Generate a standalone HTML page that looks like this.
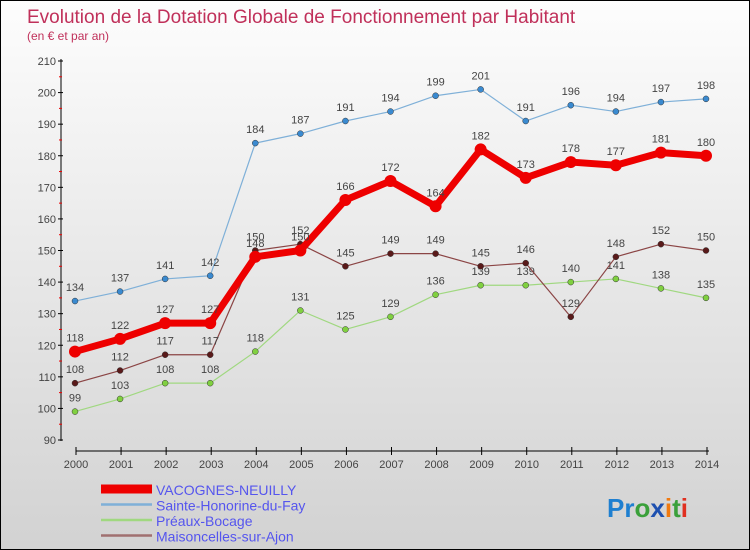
<!DOCTYPE html>
<html><head><meta charset="utf-8"><style>
body{margin:0;}
#c{width:748px;height:548px;border:1px solid #000;background:linear-gradient(#fdfdfd,#d2d2d2);position:relative;font-family:"Liberation Sans",sans-serif;overflow:hidden}
</style></head><body>
<div id="c">
<svg id="s" width="748" height="548" style="position:absolute;left:0;top:0">
<text x="26" y="22" font-size="19" fill="#c0305a">Evolution de la Dotation Globale de Fonctionnement par Habitant</text>
<text x="26" y="39" font-size="12" fill="#c0305a">(en € et par an)</text>
<g id="g"></g>
<text x="606" y="516" font-size="26" font-weight="bold"><tspan fill="#1e7fd0">Pr</tspan><tspan fill="#3aa03a">o</tspan><tspan fill="#1e50b0">x</tspan><tspan fill="#f07a10">i</tspan><tspan fill="#3aa03a">t</tspan><tspan fill="#e03020">i</tspan></text>
</svg>
</div>
<script>
const years=[2000,2001,2002,2003,2004,2005,2006,2007,2008,2009,2010,2011,2012,2013,2014];
const yTicks=[90,100,110,120,130,140,150,160,170,180,190,200,210];
const vacognes=[118,122,127,127,148,150,166,172,164,182,173,178,177,181,180];
const sainte=[134,137,141,142,184,187,191,194,199,201,191,196,194,197,198];
const preaux=[99,103,108,108,118,131,125,129,136,139,139,140,141,138,135];
const maison=[108,112,117,117,150,152,145,149,149,145,146,129,148,152,150];
const NS="http://www.w3.org/2000/svg";
const g=document.getElementById('g');
const X=i=>74+i*(631/14);
const Y=v=>439-(v-90)*(379/120);
function mk(t,a,txt){const e=document.createElementNS(NS,t);for(const k in a)e.setAttribute(k,a[k]);if(txt!==undefined)e.textContent=txt;g.appendChild(e);return e;}
let e=mk('line',{x1:60,y1:58,x2:60,y2:440,stroke:'#000'});


e=mk('line',{x1:75,y1:450,x2:708,y2:450,stroke:'#000'});


yTicks.forEach(v=>{
 mk('line',{x1:57,y1:Y(v),x2:62,y2:Y(v),stroke:'#000'});
 if(v<210)mk('line',{x1:58,y1:Y(v+5),x2:61,y2:Y(v+5),stroke:'#e00'});
 const t=mk('text',{x:55,y:Y(v)+4,'font-size':11,'text-anchor':'end',fill:'#444'},v);
 
 
});
years.forEach((y,i)=>{
 mk('line',{x1:X(i)+1,y1:446,x2:X(i)+1,y2:454,stroke:'#000'});
 const t=mk('text',{x:X(i)+1,y:467,'font-size':11,'text-anchor':'middle',fill:'#444'},y);
 
 
});
function series(d,col,w,r,dot,name,big){
 const pts=d.map((v,i)=>X(i)+','+Y(v)).join(' ');
 const p=mk('polyline',{points:pts,fill:'none',stroke:col,'stroke-width':w,'stroke-linejoin':'round'});
 
 
 d.forEach((v,i)=>{
  const c=mk('circle',{cx:X(i),cy:Y(v),r:r,fill:dot,stroke:big?'#e00':'#333','stroke-width':big?0:0.5});
  
  
  const t=mk('text',{x:X(i),y:Y(v)-10,'font-size':11,'text-anchor':'middle',fill:'#444'},v);
  
  
 });
}
series(sainte,'#7fb0d8',1.2,3,'#3a8ad0','sainte-honorine');
series(preaux,'#a0d880',1.2,3,'#80d040','preaux');
series(maison,'#8b4545',1.2,3,'#5a1a1a','maisoncelles');
series(vacognes,'#e00',7,6,'#e00','vacognes',true);
const names=['VACOGNES-NEUILLY','Sainte-Honorine-du-Fay','Préaux-Bocage','Maisoncelles-sur-Ajon'];
const cols=['#e00','#7fb0d8','#a0d880','#a07070'];
names.forEach((n,i)=>{
 const y=493+i*15.5;
 mk('line',{x1:100,y1:y-5,x2:151,y2:y-5,stroke:cols[i],'stroke-width':i==0?9:2.5});
 const t=mk('text',{x:155,y:y+1,'font-size':14,fill:'#5555ee'},n);
 
 
});
</script>
</body></html>
